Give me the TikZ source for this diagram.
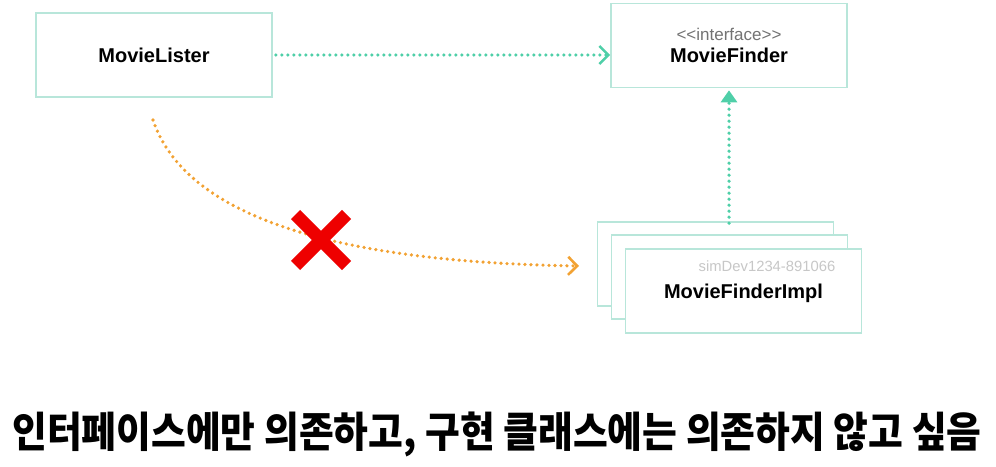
\documentclass[tikz,border=0pt]{standalone}
\usepackage{fontspec}
\setmainfont{Liberation Sans}
\newfontfamily\krfont{Noto Sans CJK KR}
\usetikzlibrary{arrows.meta,shapes.misc}
\definecolor{boxline}{HTML}{B8E6DA}
\definecolor{tealarrow}{HTML}{4FCFA8}
\definecolor{orangearrow}{HTML}{F2A233}
\definecolor{xred}{HTML}{EE0000}
\begin{document}
\begin{tikzpicture}[x=0.5pt, y=-0.5pt,
  classbox/.style={draw=boxline, line width=0.8pt, fill=white, minimum width=118pt, minimum height=42pt, inner sep=0pt, font=\bfseries\fontsize{10}{12}\selectfont},
  dotline/.style={line width=1.8pt, dash pattern=on 0pt off 3pt, line cap=round},
  depends/.style={dotline, tealarrow, -{Straight Barb[length=4.5pt,width=9pt,line width=1.3pt]}},
  realizes/.style={dotline, tealarrow, -{Triangle[length=6pt,width=8pt,line cap=butt]}},
  forbidden/.style={dotline, orangearrow, -{Straight Barb[length=4.5pt,width=9pt,line width=1.3pt]}}]
\useasboundingbox (0,0) rectangle (996,466);
\node[classbox] (lister) at (154,55){MovieLister};
\node[classbox, align=center] (finder) at (729,45.5){{\mdseries\fontsize{8.5}{9}\selectfont\color{black!55}<{}<interface>{}>}\\[-1pt]MovieFinder};
\node[classbox] (impl1) at (715.5,264){};
\node[classbox] (impl2) at (729.5,277){};
\node[classbox, text depth=-6pt] (impl3) at (743.5,291){MovieFinderImpl};
\node[text=black!22, font=\fontsize{7.4}{9}\selectfont] (watermark) at (767,266){simDev1234-891066};
\coordinate (curvestart) at (153,120);
\coordinate (curveend) at (579,266);
\draw[depends] ([xshift=1.5pt]lister.east) -- (lister.east -| finder.west);
\draw[realizes] ([yshift=-1pt]finder.south |- impl1.north) -- ([yshift=-1pt]finder.south);
\draw[forbidden] (curvestart) .. controls (185,215) and (330,262) .. (curveend);
\node[cross out, draw=xred, line width=6.5pt, minimum size=19pt, inner sep=0pt] (nox) at (321,240){};
\node[font=\krfont\bfseries\fontsize{21}{24}\selectfont, xscale=0.90] (caption) at (497,434){인터페이스에만 의존하고, 구현 클래스에는 의존하지 않고 싶음};
\end{tikzpicture}
\end{document}
